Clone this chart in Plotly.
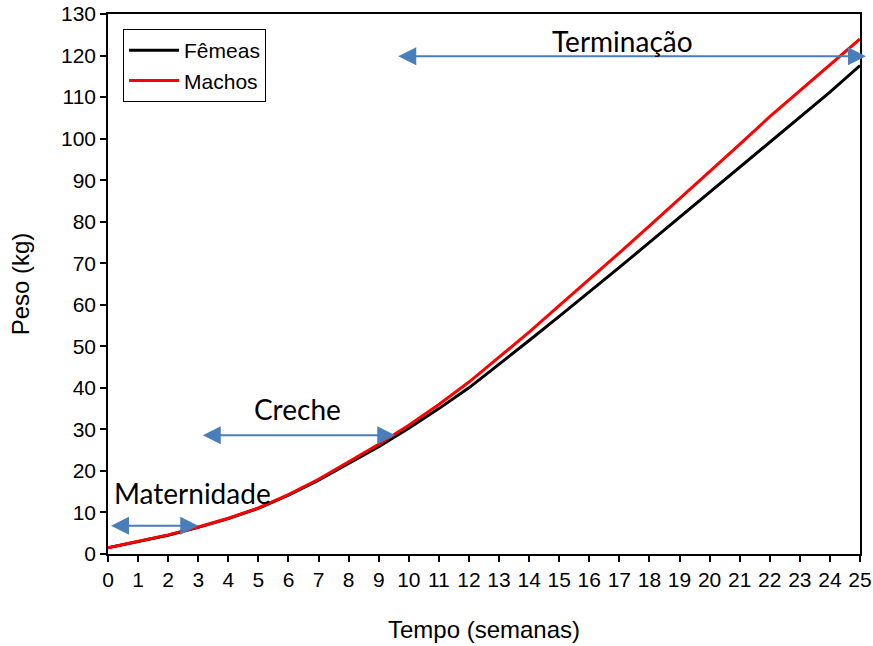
import plotly.graph_objects as go

semanas = list(range(0, 26))
femeas = [1.5, 3.0, 4.5, 6.4, 8.5, 11.0, 14.2, 17.8, 21.7, 25.8, 30.3, 35.0, 40.0,
          45.6, 51.4, 57.2, 63.0, 69.0, 75.0, 81.0, 87.0, 93.0, 99.0, 105.0, 111.2, 117.6]
machos = [1.5, 3.0, 4.6, 6.5, 8.6, 11.1, 14.3, 18.0, 22.1, 26.4, 31.0, 36.0, 41.4,
          47.3, 53.4, 59.8, 66.1, 72.5, 79.0, 85.5, 92.0, 98.6, 105.3, 111.6, 117.8, 124.0]

fases = ["Maternidade", "Creche", "Terminação"]
fase_inicio = [0.05, 3.1, 9.6]
fase_fim = [3.0, 9.55, 25.2]
fase_y = [6.8, 28.6, 119.8]
rotulo_x = [2.8, 6.3, 17.1]
rotulo_y = [14.8, 34.9, 123.6]

fig = go.Figure()
fig.add_trace(go.Scatter(x=semanas, y=femeas, mode="lines", name="Fêmeas",
                         line=dict(color="black", width=3), cliponaxis=False))
fig.add_trace(go.Scatter(x=semanas, y=machos, mode="lines", name="Machos",
                         line=dict(color="#FF0000", width=3), cliponaxis=False))

azul = "#4A7EBB"
for nome, x0, x1, yv, tx, ty in zip(fases, fase_inicio, fase_fim, fase_y, rotulo_x, rotulo_y):
    fig.add_annotation(x=x1, y=yv, ax=x0, ay=yv, xref="x", yref="y", axref="x", ayref="y",
                       text="", showarrow=True, arrowside="end+start",
                       arrowhead=2, startarrowhead=2, arrowsize=1.8, startarrowsize=1.8,
                       arrowwidth=2, arrowcolor=azul)
    fig.add_annotation(x=tx, y=ty, xref="x", yref="y", text=nome, showarrow=False,
                       font=dict(family="Lato, Open Sans, sans-serif", size=28, color="black"))

fig.update_layout(
    width=873, height=646,
    margin=dict(l=108, r=13, t=14, b=92, autoexpand=False),
    paper_bgcolor="white", plot_bgcolor="white",
    font=dict(family="Liberation Sans, Arial, sans-serif", color="black"),
    showlegend=True,
    legend=dict(x=0.02, y=0.972, xanchor="left", yanchor="top",
                bordercolor="black", borderwidth=1, bgcolor="white",
                font=dict(size=21), tracegroupgap=0, itemwidth=50),
    xaxis=dict(range=[0, 25], dtick=1, tick0=0, ticks="outside", ticklen=6, tickwidth=1.5,
               tickcolor="black", showline=True, linecolor="black", linewidth=1.5, mirror=True,
               showgrid=False, zeroline=False, tickfont=dict(size=21), automargin=False,
               title=dict(text="Tempo (semanas)", font=dict(size=24), standoff=31)),
    yaxis=dict(range=[0, 130], dtick=10, tick0=0, ticks="outside", ticklen=6, tickwidth=1.5,
               tickcolor="black", showline=True, linecolor="black", linewidth=1.5, mirror=True,
               showgrid=False, zeroline=False, tickfont=dict(size=21), automargin=False,
               title=dict(text="Peso (kg)", font=dict(size=24), standoff=25)),
)

fig.write_html("out.html", config={"displayModeBar": False},
               post_script="document.body.style.margin='0';")
